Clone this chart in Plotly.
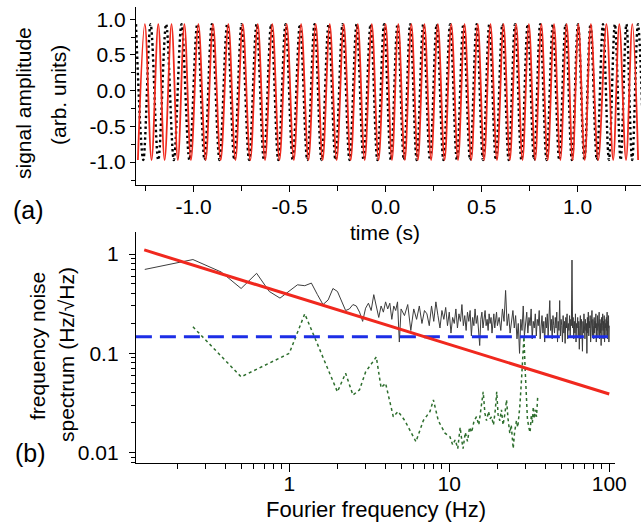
import numpy as np
import plotly.graph_objects as go

W, H = 641, 524

# ---------------- panel (a): signal extrema ----------------
black_peak_t = [-1.300, -1.224, -1.143, -1.063, -0.981, -0.905, -0.825, -0.750, -0.672, -0.596,
                -0.521, -0.446, -0.370, -0.297, -0.224, -0.151, -0.078, -0.008, 0.062, 0.128,
                0.196, 0.266, 0.336, 0.405, 0.474, 0.540, 0.608, 0.674, 0.740, 0.805,
                0.871, 0.937, 1.002, 1.067, 1.132, 1.194, 1.254, 1.314]
black_trough_t = [-1.262, -1.184, -1.103, -1.022, -0.943, -0.865, -0.788, -0.711, -0.634, -0.559,
                  -0.484, -0.408, -0.334, -0.261, -0.188, -0.115, -0.043, 0.027, 0.095, 0.162,
                  0.231, 0.301, 0.371, 0.440, 0.507, 0.574, 0.641, 0.707, 0.773, 0.838,
                  0.904, 0.970, 1.035, 1.100, 1.163, 1.224, 1.284, 1.344]
red_peak_t = [-1.254, -1.184, -1.115, -1.048, -0.975, -0.899, -0.819, -0.744, -0.666, -0.590,
              -0.515, -0.440, -0.364, -0.291, -0.218, -0.145, -0.072, 0.000, 0.066, 0.134,
              0.202, 0.272, 0.342, 0.411, 0.480, 0.546, 0.614, 0.680, 0.746, 0.811,
              0.877, 0.943, 1.004, 1.069, 1.150, 1.217, 1.285]
red_trough_t = [-1.290, -1.219, -1.151, -1.082, -1.014, -0.937, -0.859, -0.782, -0.705, -0.628,
                -0.553, -0.478, -0.402, -0.328, -0.255, -0.182, -0.109, -0.037, 0.033, 0.100,
                0.168, 0.237, 0.307, 0.377, 0.446, 0.513, 0.580, 0.647, 0.713, 0.779,
                0.844, 0.910, 0.974, 1.037, 1.107, 1.185, 1.252, 1.315]
signal_peak = 0.93
signal_trough = -0.97

# ---------------- panel (b): spectra ----------------
noiseA_start, noiseA_step = 0.125, 0.125
noiseA = [0.70, 0.88, 0.66, 0.45, 0.64, 0.42, 0.36, 0.42, 0.49, 0.48,
          0.51, 0.39, 0.31, 0.345, 0.45, 0.42, 0.33, 0.27, 0.28, 0.31,
          0.30, 0.26, 0.21, 0.285, 0.32, 0.27, 0.39, 0.29, 0.23, 0.30,
          0.26, 0.33, 0.28, 0.32, 0.22, 0.30, 0.27, 0.33, 0.13, 0.28]
noiseB_start, noiseB_step = 5.25, 0.25
noiseB = [0.24, 0.31, 0.17, 0.28, 0.22, 0.30, 0.20, 0.27, 0.25, 0.19,
          0.30, 0.21, 0.33, 0.24, 0.18, 0.27, 0.22, 0.29, 0.19, 0.26,
          0.16, 0.23, 0.20, 0.28, 0.18, 0.25, 0.21, 0.31, 0.19, 0.24,
          0.17, 0.26, 0.21, 0.27, 0.15, 0.23, 0.19, 0.28, 0.20, 0.24,
          0.16, 0.12, 0.22, 0.26, 0.18, 0.23, 0.27, 0.19, 0.22, 0.17,
          0.25, 0.20, 0.23, 0.16, 0.21, 0.25, 0.18, 0.22, 0.26, 0.19]
noiseC_start, noiseC_step = 20.5, 0.5
noiseC = [0.23, 0.17, 0.28, 0.21, 0.43, 0.19, 0.25, 0.16, 0.22, 0.27,
          0.18, 0.24, 0.14, 0.20, 0.10, 0.22, 0.17, 0.30, 0.15, 0.21,
          0.26, 0.16, 0.23, 0.19, 0.28, 0.14, 0.21, 0.18, 0.25, 0.15,
          0.22, 0.19, 0.27, 0.14, 0.20, 0.24, 0.16, 0.21, 0.13, 0.23,
          0.18, 0.25, 0.15, 0.21, 0.34, 0.17, 0.22, 0.14, 0.24, 0.19,
          0.16, 0.23, 0.18, 0.26, 0.13, 0.21, 0.17, 0.34, 0.15, 0.22,
          0.19, 0.13, 0.24, 0.16, 0.21, 0.126, 0.23, 0.18, 0.25, 0.14,
          0.20, 0.17, 0.24, 0.15, 0.22, 0.19, 0.87, 0.18, 0.23, 0.14,
          0.21, 0.16, 0.25, 0.13, 0.20, 0.18, 0.23, 0.15, 0.21, 0.11,
          0.19, 0.24, 0.14, 0.22, 0.17, 0.105, 0.21, 0.16, 0.25, 0.18,
          0.14, 0.22, 0.17, 0.20, 0.10, 0.23, 0.16, 0.26, 0.15, 0.21,
          0.18, 0.24, 0.13, 0.20, 0.17, 0.27, 0.15, 0.22, 0.19, 0.14,
          0.23, 0.16, 0.21, 0.18, 0.25, 0.13, 0.20, 0.17, 0.24, 0.15,
          0.21, 0.18, 0.26, 0.14, 0.22, 0.16, 0.20, 0.12, 0.23, 0.17,
          0.19, 0.25, 0.14, 0.21, 0.17, 0.24, 0.13, 0.22, 0.18, 0.20,
          0.15, 0.23, 0.17, 0.26, 0.14, 0.21, 0.18, 0.24, 0.13, 0.19]

green_f = [0.25, 0.5, 1.0, 1.25, 2.0, 2.25, 2.5, 2.75, 3.0, 3.5, 3.75, 4.0, 4.47, 4.79, 5.28,
           6.19, 6.88, 7.58, 7.96, 8.54, 9.41, 10.1, 10.5, 10.9, 11.3, 11.7, 12.0, 12.2, 12.6,
           13.0, 13.4, 13.8, 14.3, 14.8, 15.3, 15.8, 16.3, 16.7, 17.1, 17.6, 18.0, 18.4, 18.9,
           19.4, 19.8, 20.2, 20.7, 21.2, 21.7, 22.3, 22.8, 23.3, 23.9, 24.4, 25.1, 25.6, 26.3,
           26.8, 27.6, 28.2, 28.8, 29.3, 29.8, 30.3, 30.8, 31.4, 32.0, 32.6, 33.1, 33.5, 34.0,
           34.5, 35.1, 35.7]
green_v = [0.185, 0.058, 0.10, 0.25, 0.041, 0.063, 0.038, 0.043, 0.065, 0.092, 0.045, 0.050, 0.023,
           0.026, 0.021, 0.0129, 0.021, 0.026, 0.034, 0.021, 0.0157, 0.0145, 0.012, 0.0135, 0.011,
           0.018, 0.013, 0.011, 0.016, 0.013, 0.018, 0.016, 0.021, 0.023, 0.019, 0.027, 0.041,
           0.025, 0.021, 0.026, 0.022, 0.023, 0.019, 0.027, 0.041, 0.024, 0.021, 0.027, 0.019,
           0.025, 0.034, 0.022, 0.0157, 0.019, 0.011, 0.016, 0.021, 0.018, 0.029, 0.05, 0.10,
           0.147, 0.07, 0.035, 0.022, 0.018, 0.016, 0.024, 0.020, 0.029, 0.022, 0.027, 0.023, 0.036]

fit_f = [0.124, 100]
fit_v = [1.10, 0.039]
level_f = [0.11, 100]
level_v = [0.147, 0.147]


def extrema(peaks, troughs):
    t = np.array(peaks + troughs)
    v = np.array([signal_peak] * len(peaks) + [signal_trough] * len(troughs))
    o = np.argsort(t)
    return t[o], v[o]


def seg(start, step, vals):
    return start + step * np.arange(len(vals))


bt, bv = extrema(black_peak_t, black_trough_t)
rt, rv = extrema(red_peak_t, red_trough_t)
nf = np.concatenate([seg(noiseA_start, noiseA_step, noiseA),
                     seg(noiseB_start, noiseB_step, noiseB),
                     seg(noiseC_start, noiseC_step, noiseC)])
nv = np.array(noiseA + noiseB + noiseC)

fig = go.Figure()
fig.add_trace(go.Scatter(x=bt, y=bv, mode="lines", xaxis="x", yaxis="y",
                         line=dict(color="black", width=2.4, dash="2.4px,3px", shape="spline")))
fig.add_trace(go.Scatter(x=rt, y=rv, mode="lines", xaxis="x", yaxis="y",
                         line=dict(color="#f02a1e", width=1.8, shape="spline")))

fig.add_trace(go.Scatter(x=nf, y=nv, mode="lines", xaxis="x2", yaxis="y2",
                         line=dict(color="#3c3c3c", width=1)))
fig.add_trace(go.Scatter(x=green_f, y=green_v, mode="lines", xaxis="x2", yaxis="y2",
                         line=dict(color="#2d6e2d", width=1.5, dash="dot")))
fig.add_trace(go.Scatter(x=level_f, y=level_v, mode="lines", xaxis="x2", yaxis="y2",
                         line=dict(color="#1c2ee6", width=3, dash="16px,8px")))
fig.add_trace(go.Scatter(x=fit_f, y=fit_v, mode="lines", xaxis="x2", yaxis="y2",
                         line=dict(color="#f0281e", width=3)))

FONT = "Liberation Sans, Arial, sans-serif"
axcommon = dict(showline=True, linecolor="black", linewidth=1.3, ticks="outside",
                tickcolor="black", tickwidth=1.2, showgrid=False, zeroline=False,
                automargin=False,
                tickfont=dict(family=FONT, size=21, color="black"))

lin_major = [-1, -0.5, 0, 0.5, 1]
lin_text = ["-1.0", "-0.5", "0.0", "0.5", "1.0"]

fig.update_layout(
    width=W, height=H, margin=dict(l=0, r=0, t=0, b=0, pad=0, autoexpand=False),
    paper_bgcolor="white", plot_bgcolor="white", showlegend=False,
    xaxis=dict(domain=[136 / W, 1.0], anchor="y", range=[-1.30, 1.33],
               tickmode="array", tickvals=lin_major, ticktext=lin_text, ticklen=6,
               ticklabelstandoff=-3,
               minor=dict(tickvals=[-1.25, -0.75, -0.25, 0.25, 0.75, 1.25], ticklen=5,
                          ticks="outside", tickcolor="black", tickwidth=1.2),
               **axcommon),
    yaxis=dict(domain=[(H - 185) / H, (H - 7) / H], anchor="x", range=[-1.32, 1.17],
               tickmode="array", tickvals=lin_major, ticktext=lin_text, ticklen=5,
               minor=dict(tickvals=[-1.25, -0.75, -0.25, 0.25, 0.75], ticklen=4,
                          ticks="outside", tickcolor="black", tickwidth=1.2),
               **axcommon),
    xaxis2=dict(domain=[136 / W, 615 / W], anchor="y2", type="log", range=[-0.958, 2.036],
                tickmode="array", tickvals=[1, 10, 100], ticktext=["1", "10", "100"], ticklen=8,
                ticklabelstandoff=-7,
                minor=dict(tickvals=[0.2, 0.3, 0.4, 0.5, 0.6, 0.7, 0.8, 0.9,
                                     2, 3, 4, 5, 6, 7, 8, 9, 20, 30, 40, 50, 60, 70, 80, 90],
                           ticklen=5, ticks="outside", tickcolor="black", tickwidth=1.2),
                **axcommon),
    yaxis2=dict(domain=[(H - 463.3) / H, (H - 232) / H], anchor="x2", type="log",
                range=[-2.107, 0.222], tickmode="array", tickvals=[0.01, 0.1, 1],
                ticktext=["0.01", "0.1", "1"], ticklen=6, ticklabelstandoff=6,
                minor=dict(tickvals=[0.008, 0.009, 0.02, 0.03, 0.04, 0.05, 0.06, 0.07, 0.08, 0.09,
                                     0.2, 0.3, 0.4, 0.5, 0.6, 0.7, 0.8, 0.9],
                           ticklen=4, ticks="outside", tickcolor="black", tickwidth=1.2),
                **axcommon),
)


def label(text, x, y, size=21, angle=0):
    fig.add_annotation(text=text, xref="paper", yref="paper", x=x / W, y=1 - y / H,
                       xanchor="center", yanchor="middle", showarrow=False, textangle=angle,
                       font=dict(family=FONT, size=size, color="black"))


label("signal amplitude", 23, 103, angle=-90)
label("(arb. units)", 58, 95, angle=-90)
label("(a)", 28, 210, size=25)
label("time (s)", 385, 232)
label("frequency noise", 37, 346, angle=-90)
label("spectrum (Hz/√Hz)", 66, 355, angle=-90)
label("(b)", 30, 453, size=25)
label("Fourier frequency (Hz)", 376, 509, size=22)

fig.write_html("out.html", config={"displayModeBar": False},
               post_script="document.body.style.margin='0';document.body.style.overflow='hidden';")
